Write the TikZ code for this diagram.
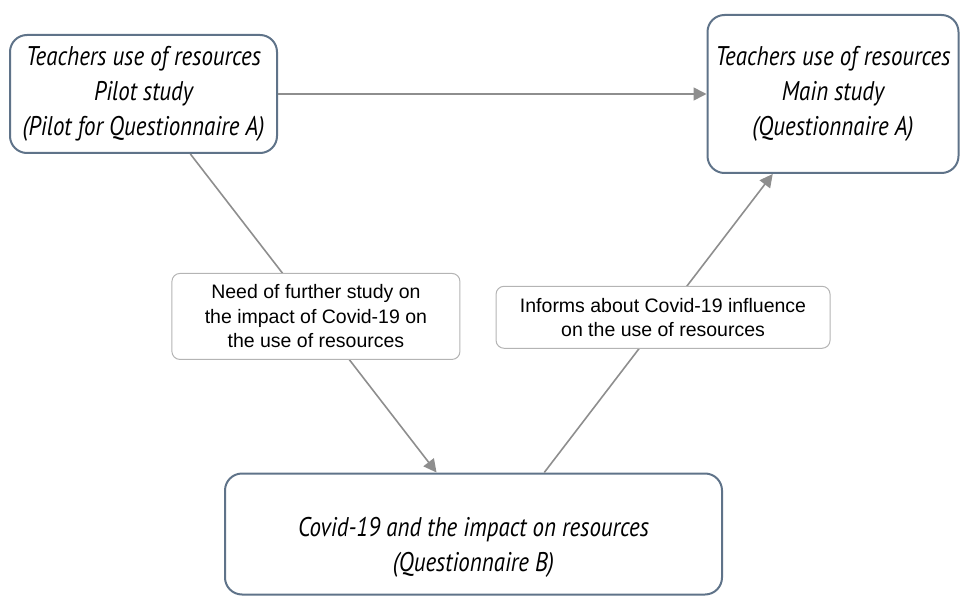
\documentclass[tikz,border=0pt]{standalone}
\usepackage{fontspec}
\usepackage{xcolor}
\usepackage{tikz}
\usetikzlibrary{arrows.meta}

\newfontfamily\boxfont[FakeStretch=0.85]{PT Sans}
\newfontfamily\labfont{Liberation Sans}

\definecolor{boxedge}{HTML}{5F7389}
\definecolor{linkgray}{HTML}{8E8E8E}
\definecolor{labedge}{HTML}{B4B4B4}

\tikzset{
	studybox/.style={draw=boxedge, line width=2pt, rounded corners=17pt, align=center, inner sep=0pt,
		font=\boxfont\itshape\fontsize{27}{35}\selectfont},
	notebox/.style={draw=labedge, line width=1pt, fill=white, rounded corners=8pt, align=center, inner sep=0pt,
		font=\labfont\fontsize{19.5}{24.5}\selectfont},
	link/.style={draw=linkgray, line width=1.6pt, -{Triangle[length=13pt, width=13pt]}}
}

\begin{document}
\begin{tikzpicture}[x=1pt, y=-1pt]
	\useasboundingbox (0,0) rectangle (961,596);

	\node[studybox, minimum width=267pt, minimum height=118pt] (pilot) at (143.5,94)
		{Teachers use of resources\\Pilot study\\(Pilot for Questionnaire A)};
	\node[studybox, minimum width=251pt, minimum height=158pt] (main) at (833,94)
		{Teachers use of resources\\Main study\\(Questionnaire A)};
	\node[studybox, minimum width=497pt, minimum height=121pt] (covid) at (473.5,534)
		{\rule{0pt}{46pt}Covid-19 and the impact on resources\\(Questionnaire B)};

	\draw[link] (pilot.east) -- (main.west);
	\draw[link] (pilot.-52) -- node[notebox, pos=0.51, minimum width=288pt, minimum height=86pt] (need)
		{Need of further study on\\the impact of Covid-19 on\\the use of resources} (covid.121);
	\draw[link] (covid.41) -- node[notebox, pos=0.52, minimum width=334pt, minimum height=62pt] (informs)
		{Informs about Covid-19 influence\\on the use of resources} (main.-127);

\end{tikzpicture}
\end{document}
